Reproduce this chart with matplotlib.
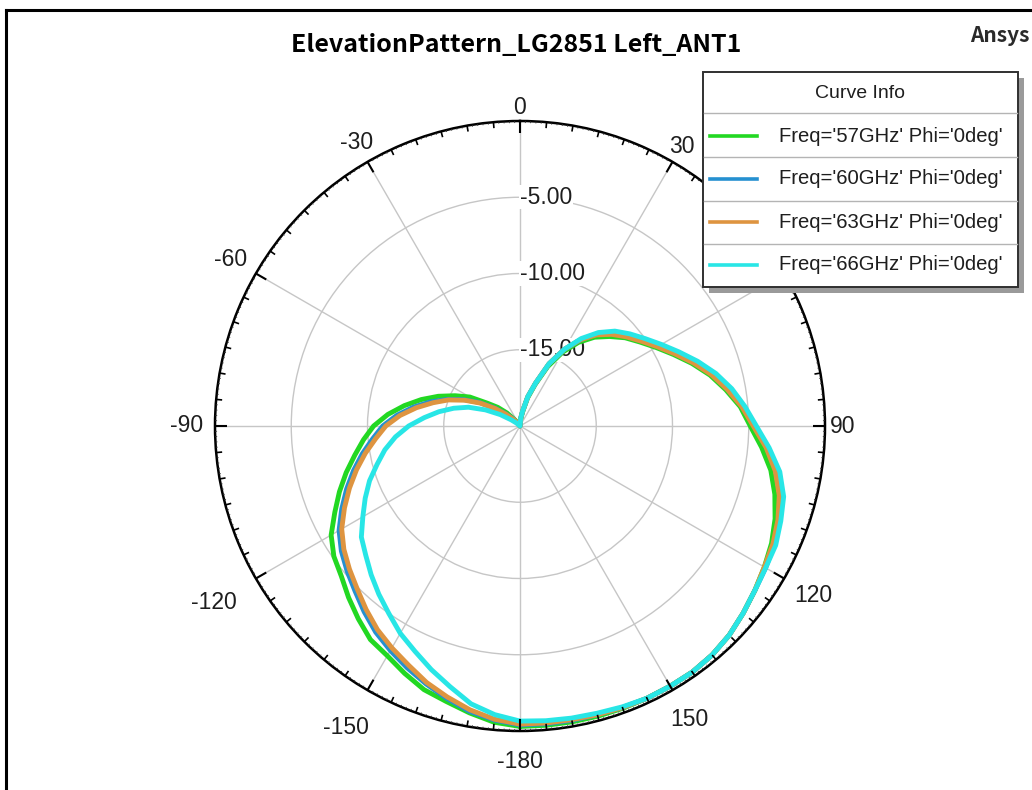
import numpy as np
import matplotlib
matplotlib.use("Agg")
import matplotlib.pyplot as plt
from matplotlib.patches import Rectangle
from matplotlib.lines import Line2D

# ---------------- data ----------------
theta_deg = list(range(-180, 181, 5))

gain_57GHz = [
    -0.3, -0.5, -0.9, -1.3, -1.6, -2.1, -2.6, -2.9, -3.5, -4.1, -4.7, -5.1,
    -5.7, -6.6, -7.4, -8.2, -9.0, -9.7, -10.4, -11.3, -12.3, -13.3, -14.3, -15.3,
    -16.2, -17.4, -18.1, -18.8, -19.5, -20.0, -20.0, -20.0, -20.0, -20.0, -20.0, -20.0,
    -20.0,
    -19.6, -19.1, -18.1, -17.1, -15.7, -14.4, -13.3, -12.4, -11.7, -11.0, -10.4, -9.7,
    -8.9, -8.0, -7.1, -6.3, -5.5, -4.9, -4.1, -3.3, -2.7, -2.2, -1.8, -1.5,
    -1.2, -0.9, -0.6, -0.4, -0.3, -0.3, -0.3, -0.3, -0.3, -0.3, -0.3, -0.3,
]
gain_60GHz = [
    -0.4, -0.65, -1.0, -1.5, -2.0, -2.5, -3.0, -3.5, -4.1, -4.7, -5.2, -5.7,
    -6.3, -7.1, -7.9, -8.7, -9.5, -10.3, -11.0, -11.9, -12.9, -13.9, -14.9, -15.9,
    -16.9, -17.9, -18.7, -19.3, -19.8, -20.0, -20.0, -20.0, -20.0, -20.0, -20.0, -20.0,
    -20.0,
    -19.5, -19.0, -18.0, -17.0, -15.5, -14.2, -13.1, -12.1, -11.4, -10.8, -10.2, -9.5,
    -8.7, -7.8, -6.9, -6.1, -5.3, -4.6, -3.7, -2.9, -2.3, -1.9, -1.6, -1.4,
    -1.2, -0.9, -0.6, -0.4, -0.3, -0.3, -0.3, -0.35, -0.4, -0.4, -0.4, -0.4,
]
gain_63GHz = [
    -0.45, -0.7, -1.1, -1.6, -2.1, -2.7, -3.2, -3.7, -4.3, -4.9, -5.4, -5.9,
    -6.5, -7.3, -8.1, -8.9, -9.7, -10.5, -11.2, -12.1, -13.1, -14.1, -15.0, -16.0,
    -17.0, -18.0, -18.8, -19.4, -19.8, -20.0, -20.0, -20.0, -20.0, -20.0, -20.0, -20.0,
    -20.0,
    -19.5, -19.0, -18.0, -17.0, -15.5, -14.2, -13.1, -12.2, -11.5, -10.9, -10.3, -9.6,
    -8.8, -7.9, -7.0, -6.2, -5.4, -4.7, -3.8, -3.0, -2.4, -2.0, -1.7, -1.5,
    -1.2, -0.9, -0.6, -0.4, -0.3, -0.3, -0.3, -0.35, -0.4, -0.45, -0.45, -0.45,
]
gain_66GHz = [
    -0.65, -1.0, -1.5, -2.3, -3.0, -3.7, -4.3, -5.0, -5.6, -6.2, -6.8, -7.3,
    -8.1, -8.8, -9.5, -10.3, -11.0, -11.8, -12.7, -13.7, -14.6, -15.5, -16.4, -17.5,
    -18.5, -19.3, -19.7, -20.0, -20.0, -20.0, -20.0, -20.0, -20.0, -20.0, -20.0, -20.0,
    -20.0,
    -19.5, -19.0, -18.0, -17.0, -15.5, -14.2, -13.0, -12.0, -11.2, -10.6, -10.0, -9.3,
    -8.5, -7.6, -6.7, -5.9, -5.2, -4.5, -3.6, -2.7, -2.1, -1.8, -1.5, -1.4,
    -1.2, -0.9, -0.6, -0.4, -0.3, -0.3, -0.3, -0.4, -0.5, -0.55, -0.6, -0.65,
]

series_labels = ["Freq='57GHz' Phi='0deg'", "Freq='60GHz' Phi='0deg'",
                 "Freq='63GHz' Phi='0deg'", "Freq='66GHz' Phi='0deg'"]
series_values = [gain_57GHz, gain_60GHz, gain_63GHz, gain_66GHz]
series_colors = ["#22d822", "#2590d0", "#de9440", "#28e6e6"]

# "60" sits hidden under the legend box in the reference, so it is not drawn
angle_ticks = [0, 30, 90, 120, 150, 180, -150, -120, -90, -60, -30]
angle_tick_labels = ["0", "30", "90", "120", "150", "-180",
                     "-150", "-120", "-90", "-60", "-30"]
radial_ticks = [-15, -10, -5]
radial_tick_labels = ["-15.00", "-10.00", "-5.00"]
r_min, r_max = -20, 0

title_text = "ElevationPattern_LG2851 Left_ANT1"
legend_title = "Curve Info"

# ---------------- layout ----------------
W, H = 1032, 790
fig = plt.figure(figsize=(W / 100, H / 100), dpi=100)
fig.patch.set_facecolor("white")

def fx(px):
    return px / W

def fy(py):
    return 1 - py / H

cx, cy, rad = 520, 426, 305
ax = fig.add_axes([fx(cx - rad), fy(cy + rad), 2 * rad / W, 2 * rad / H],
                  projection="polar")
ax.set_theta_zero_location("N")
ax.set_theta_direction(-1)
ax.set_ylim(r_min, r_max)
px_per_db = rad / (r_max - r_min)

lab_font = "Liberation Sans"
txt_color = "#1e1e1e"

# grid
ax.set_xticks(np.deg2rad(np.arange(0, 360, 30)))
ax.set_xticklabels([])
ax.set_yticks(radial_ticks)
ax.set_yticklabels([])
ax.grid(True, color="#c6c6c6", lw=1.0)
ax.spines["polar"].set_color("black")
ax.spines["polar"].set_linewidth(1.8)
ax.tick_params(axis="both", length=0)

# rim ticks pointing inward: every 5 deg short, every 30 deg long
minor_t = np.deg2rad([a for a in range(0, 360, 5) if a % 30])
major_t = np.deg2rad(np.arange(0, 360, 30))
ax.vlines(minor_t, r_max - 6 / px_per_db, r_max, color="black", lw=1.2, zorder=5)
ax.vlines(major_t, r_max - 12 / px_per_db, r_max, color="black", lw=1.5, zorder=5)
fine_t = np.deg2rad([a for a in range(0, 360, 1) if a % 5])
ax.vlines(fine_t, r_max - 2 / px_per_db, r_max, color="#333333", lw=0.6, zorder=5)

# curves
th = np.deg2rad(theta_deg)
lines = []
for vals, col, lab in zip(series_values, series_colors, series_labels):
    ln, = ax.plot(th, vals, color=col, lw=3.5, label=lab, zorder=4,
                  solid_joinstyle="round", solid_capstyle="round")
    lines.append(ln)

# radial labels with white background
for rv, rl in zip(radial_ticks, radial_tick_labels):
    ax.text(0, rv, rl, ha="left", va="center", fontsize=16.5, family=lab_font,
            color=txt_color, zorder=3,
            bbox=dict(fc="white", ec="none", pad=0.5))

# angular labels (radius in px from center, per label)
label_radius_px = [318, 323, 323, 339, 339, 336, 348, 353, 333, 334, 327]
for a, l, rp in zip(angle_ticks, angle_tick_labels, label_radius_px):
    ax.text(np.deg2rad(a), r_min + rp / px_per_db, l, ha="center", va="center",
            fontsize=16.5, family=lab_font, color=txt_color, clip_on=False,
            zorder=3)

# title and brand
fig.text(fx(516), fy(45), title_text, ha="center", va="center", fontsize=18,
         fontweight="bold", family=["Noto Sans CJK KR", "DejaVu Sans"], color="black")
fig.text(fx(1000), fy(35), "Ansys", ha="center", va="center", fontsize=15,
         fontweight="bold", family=["Noto Sans CJK KR", "DejaVu Sans"], color="#2a2a2a")

# outer frame (left and top edges visible)
fig.add_artist(Line2D([fx(6), fx(6)], [0, fy(10)], transform=fig.transFigure,
                      color="black", lw=2.2))
fig.add_artist(Line2D([fx(6), 1], [fy(10), fy(10)], transform=fig.transFigure,
                      color="black", lw=2.2))

# legend box (custom, like the HFSS "Curve Info" table)
lx0, lx1, ly0, ly1 = 703, 1018, 72, 287
shadow = Rectangle((fx(lx0 + 6), fy(ly1 + 6)), (lx1 - lx0) / W, (ly1 - ly0) / H,
                   transform=fig.transFigure, fc="#9a9a9a", ec="none", zorder=10)
box = Rectangle((fx(lx0), fy(ly1)), (lx1 - lx0) / W, (ly1 - ly0) / H,
                transform=fig.transFigure, fc="white", ec="#303030", lw=1.4, zorder=11)
fig.add_artist(shadow)
fig.add_artist(box)
fig.text(fx(860), fy(93), legend_title, ha="center", va="center", fontsize=14,
         family=lab_font, color=txt_color, zorder=12)
sep_rows = [113, 157, 201, 244]
for sy in sep_rows:
    fig.add_artist(Line2D([fx(lx0 + 1), fx(lx1 - 1)], [fy(sy), fy(sy)],
                          transform=fig.transFigure, color="#b4b4b4", lw=1.0, zorder=12))
row_centers = [136, 179, 222, 265]
for ln, ry in zip(lines, row_centers):
    fig.add_artist(Line2D([fx(710), fx(757)], [fy(ry), fy(ry)],
                          transform=fig.transFigure, color=ln.get_color(), lw=2.6,
                          zorder=12))
    fig.text(fx(779), fy(ry), ln.get_label(), ha="left", va="center", fontsize=14.6,
             family=lab_font, color=txt_color, zorder=12)

fig.savefig("out.png", dpi=100, facecolor="white")
